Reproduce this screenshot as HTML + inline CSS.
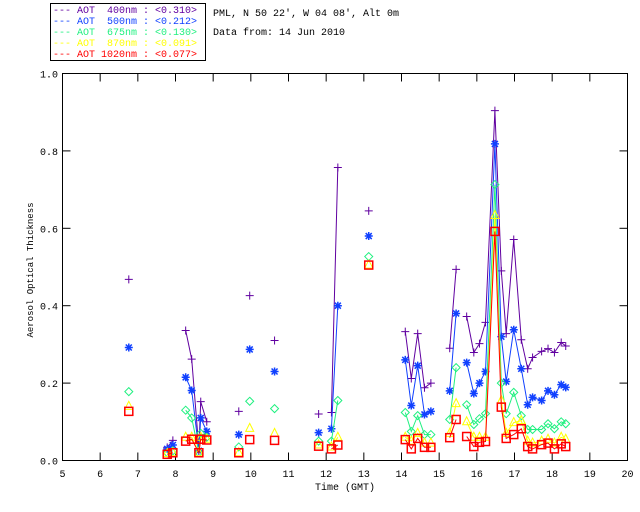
<!DOCTYPE html>
<html><head><meta charset="utf-8"><style>
html,body{margin:0;padding:0;background:#fff;width:640px;height:512px;overflow:hidden}
svg text{font-family:"Liberation Mono",monospace;font-size:10px}
</style></head><body>
<svg id="chart" width="640" height="512" xmlns="http://www.w3.org/2000/svg">
<rect x="50.5" y="3.5" width="155" height="57" fill="#fff" stroke="#000"/>
<g>
<text x="53" y="13" fill="#6000a0" xml:space="preserve">--- AOT  400nm : &lt;0.310&gt;</text>
<text x="53" y="24" fill="#1040ff" xml:space="preserve">--- AOT  500nm : &lt;0.212&gt;</text>
<text x="53" y="35" fill="#20f080" xml:space="preserve">--- AOT  675nm : &lt;0.130&gt;</text>
<text x="53" y="46" fill="#ffff00" xml:space="preserve">--- AOT  870nm : &lt;0.091&gt;</text>
<text x="53" y="57" fill="#ff0000" xml:space="preserve">--- AOT 1020nm : &lt;0.077&gt;</text>
</g>
<text x="213" y="16" fill="#000">PML, N 50 22', W 04 08', Alt 0m</text>
<text x="213" y="35" fill="#000">Data from: 14 Jun 2010</text>
<rect x="62.5" y="73.5" width="565" height="387" fill="none" stroke="#000"/>
<text x="345" y="490" text-anchor="middle">Time (GMT)</text>
<text transform="translate(33,270) rotate(-90)" text-anchor="middle" style="font-size:9px">Aerosol Optical Thickness</text>
<g id="axes"></g><g id="series"></g>
</svg>
<script>
const times=[6.76,7.78,7.93,8.27,8.43,8.62,8.67,8.83,9.68,9.97,10.63,11.8,12.14,12.31,13.13,14.1,14.26,14.43,14.61,14.78,15.28,15.45,15.73,15.92,16.07,16.23,16.48,16.65,16.78,16.98,17.18,17.35,17.48,17.72,17.89,18.06,18.24,18.36];
const segments=[0,1,1,2,2,2,2,2,3,4,5,6,7,7,8,9,9,9,9,9,10,10,11,11,11,11,11,11,11,11,11,11,11,11,11,11,11,11];
const aot400=[0.468,0.034,0.052,0.336,0.262,0.03,0.152,0.1,0.127,0.426,0.31,0.12,0.124,0.757,0.645,0.333,0.212,0.328,0.188,0.2,0.29,0.494,0.372,0.279,0.302,0.357,0.904,0.49,0.328,0.571,0.312,0.237,0.266,0.282,0.289,0.279,0.305,0.296];
const aot500=[0.292,0.03,0.04,0.215,0.181,0.025,0.11,0.075,0.067,0.287,0.23,0.072,0.082,0.4,0.58,0.26,0.142,0.245,0.119,0.127,0.18,0.38,0.253,0.173,0.2,0.23,0.818,0.32,0.204,0.338,0.237,0.144,0.163,0.155,0.18,0.17,0.196,0.189];
const aot675=[0.178,0.02,0.025,0.13,0.11,0.02,0.07,0.06,0.035,0.153,0.134,0.05,0.05,0.155,0.527,0.124,0.075,0.116,0.067,0.067,0.106,0.24,0.144,0.093,0.108,0.121,0.713,0.2,0.121,0.176,0.116,0.08,0.08,0.08,0.095,0.082,0.1,0.095];
const aot870=[0.14,0.018,0.02,0.06,0.06,0.02,0.06,0.055,0.02,0.083,0.07,0.04,0.035,0.06,0.505,0.06,0.05,0.07,0.045,0.045,0.07,0.147,0.1,0.06,0.06,0.06,0.633,0.155,0.07,0.098,0.103,0.05,0.045,0.05,0.055,0.045,0.06,0.055];
const aot1020=[0.127,0.016,0.02,0.05,0.055,0.02,0.055,0.053,0.02,0.054,0.052,0.037,0.03,0.04,0.505,0.054,0.03,0.057,0.034,0.034,0.059,0.106,0.062,0.036,0.047,0.049,0.592,0.138,0.057,0.067,0.082,0.036,0.03,0.041,0.045,0.03,0.043,0.036];
const xTicks=[5,6,7,8,9,10,11,12,13,14,15,16,17,18,19,20];
const yTicks=[0,0.2,0.4,0.6,0.8,1.0];
const yTickLabels=["0.0","0.2","0.4","0.6","0.8","1.0"];
const NS="http://www.w3.org/2000/svg";
const X0=62.5,X1=627.5,Y0=460.5,Y1=73.5;
const xs=t=>X0+(t-5)/15*(X1-X0);
const ys=v=>Y0-v*(Y0-Y1);
function mk(tag,attrs,parent){const e=document.createElementNS(NS,tag);for(const k in attrs)e.setAttribute(k,attrs[k]);parent.appendChild(e);return e;}
const axes=document.getElementById('axes');
xTicks.forEach((t,i)=>{const x=xs(t);
 const a=mk('line',{x1:x,x2:x,y1:Y0,y2:Y0-8,stroke:'#000'},axes);
 
 
 const b=mk('line',{x1:x,x2:x,y1:Y1,y2:Y1+8,stroke:'#000'},axes);
 
 
 const l=mk('text',{x:x,y:477,'text-anchor':'middle'},axes);l.textContent=t;
 
 
});
yTicks.forEach((v,i)=>{const y=ys(v);
 const a=mk('line',{x1:X0,x2:X0+8,y1:y,y2:y,stroke:'#000'},axes);
 
 
 const b=mk('line',{x1:X1,x2:X1-8,y1:y,y2:y,stroke:'#000'},axes);
 
 
 const l=mk('text',{x:58,y:y+4,'text-anchor':'end'},axes);l.textContent=yTickLabels[i];
 
 
});
const series=[["aot-400",aot400,"#6000a0","plus"],["aot-500",aot500,"#1040ff","star"],["aot-675",aot675,"#20f080","diamond"],["aot-870",aot870,"#ffff00","tri"],["aot-1020",aot1020,"#ff0000","square"]];
const sg=document.getElementById('series');
series.forEach(([name,vals,col,mkr])=>{
 const g=mk('g',{},sg);
 
 
 let d="";
 vals.forEach((v,i)=>{const x=xs(times[i]),y=ys(v);
  d+=(i>0&&segments[i]===segments[i-1]?"L":"M")+x.toFixed(1)+" "+y.toFixed(1)+" ";});
 const p=mk('path',{d:d,fill:'none',stroke:col,'stroke-width':1},g);
 
 
 vals.forEach((v,i)=>{const x=xs(times[i]),y=ys(v);let e;
  if(mkr==="plus")e=mk('path',{d:`M${x-4} ${y}H${x+4}M${x} ${y-4}V${y+4}`,stroke:col,fill:'none'},g);
  else if(mkr==="star")e=mk('path',{d:`M${x-4} ${y}H${x+4}M${x} ${y-4}V${y+4}M${x-3} ${y-3}L${x+3} ${y+3}M${x-3} ${y+3}L${x+3} ${y-3}`,stroke:col,'stroke-width':1.5,fill:'none'},g);
  else if(mkr==="diamond")e=mk('path',{d:`M${x} ${y-4}L${x+4} ${y}L${x} ${y+4}L${x-4} ${y}Z`,stroke:col,fill:'none'},g);
  else if(mkr==="tri")e=mk('path',{d:`M${x} ${y-5}L${x+4} ${y+3}L${x-4} ${y+3}Z`,stroke:col,fill:'none'},g);
  else e=mk('rect',{x:x-4,y:y-4,width:8,height:8,stroke:col,'stroke-width':1.5,fill:'none'},g);
  
  
 });
});
</script>
</body></html>
